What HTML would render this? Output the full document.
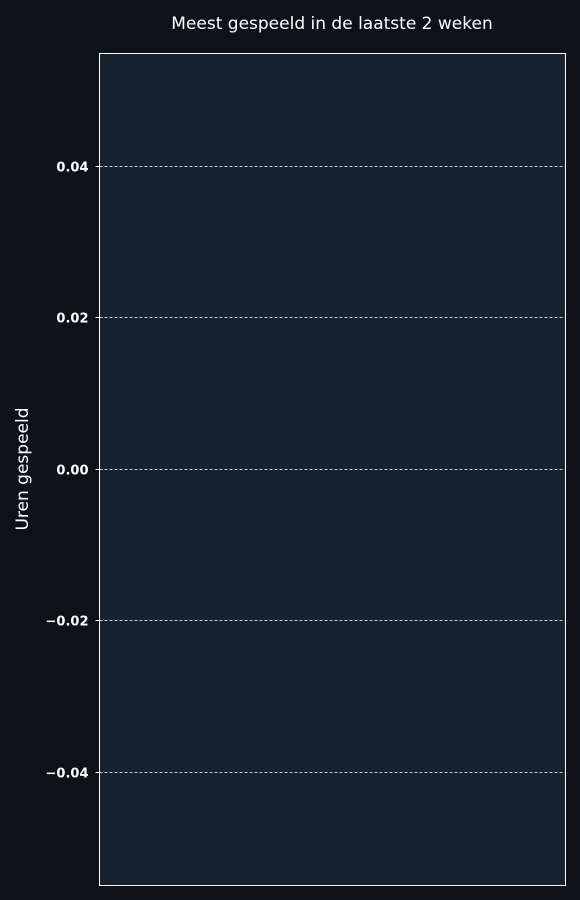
<!DOCTYPE html>
<html><head><meta charset="utf-8">
<style>
html,body{margin:0;padding:0;background:#0e1117;}
svg{display:block;font-family:"DejaVu Sans","Liberation Sans",sans-serif;}
</style></head>
<body>
<svg id="chart" width="580" height="900">
<rect x="0" y="0" width="580" height="900" fill="#0e1117"/>
<rect x="99.5" y="53.5" width="466" height="832" fill="#162230"/>
<g id="grid"></g>
<g id="ticks"></g>
<rect x="99.5" y="53.5" width="466" height="832" fill="none" stroke="#ffffff" stroke-width="1"/>
<text x="332" y="29" text-anchor="middle" fill="#ffffff" font-size="17">Meest gespeeld in de laatste 2 weken</text>
<text x="28" y="469" text-anchor="middle" fill="#ffffff" font-size="17" transform="rotate(-90 28 469)">Uren gespeeld</text>
</svg>
<script>
const categories = [];
const hours = [];
const yTickValues = [0.04, 0.02, 0.00, -0.02, -0.04];
const yTickLabels = ["0.04", "0.02", "0.00", "\u22120.02", "\u22120.04"];
const yMin = -0.0550, yMax = 0.0548;
const plotTop = 53.5, plotBottom = 885.5, plotLeft = 99.5, plotRight = 565.5;
function yScale(v){ return plotBottom - (v - yMin) / (yMax - yMin) * (plotBottom - plotTop); }
const svgNs = "http://www.w3.org/2000/svg";
const gridG = document.getElementById('grid');
const ticksG = document.getElementById('ticks');
yTickValues.forEach((v, i) => {
  const y = Math.round(yScale(v)) + 0.5;
  const l = document.createElementNS(svgNs, 'line');
  l.setAttribute('x1', plotLeft); l.setAttribute('x2', plotRight);
  l.setAttribute('y1', y); l.setAttribute('y2', y);
  l.setAttribute('stroke', '#ffffff'); l.setAttribute('stroke-width', '0.8');
  l.setAttribute('stroke-dasharray', '3,2');
  
  
  gridG.appendChild(l);
  const tk = document.createElementNS(svgNs, 'line');
  tk.setAttribute('x1', plotLeft - 4); tk.setAttribute('x2', plotLeft);
  tk.setAttribute('y1', y); tk.setAttribute('y2', y);
  tk.setAttribute('stroke', '#ffffff');
  
  
  ticksG.appendChild(tk);
  const t = document.createElementNS(svgNs, 'text');
  t.setAttribute('x', plotLeft - 11); t.setAttribute('y', y + 5);
  t.setAttribute('text-anchor', 'end'); t.setAttribute('fill', '#ffffff');
  t.setAttribute('font-size', '13'); t.setAttribute('font-weight', '600');
  
  
  t.textContent = yTickLabels[i];
  ticksG.appendChild(t);
});
</script>
</body></html>
